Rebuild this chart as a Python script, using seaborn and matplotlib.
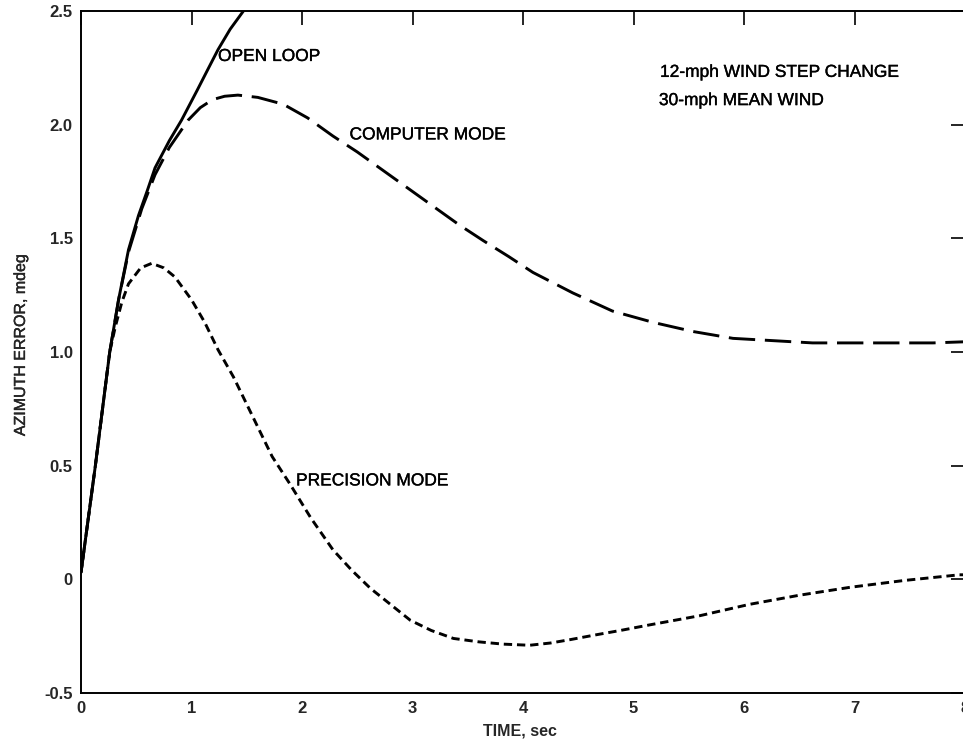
import matplotlib
matplotlib.use("Agg")
import matplotlib.pyplot as plt
import matplotlib.patheffects as pe
import seaborn as sns
import pandas as pd

# ---- data ----
open_loop_t = [0, 0.13, 0.20, 0.26, 0.34, 0.43, 0.52, 0.60, 0.67, 0.80, 0.91, 1.05, 1.15, 1.24, 1.35, 1.47, 1.60]
open_loop_v = [0.03, 0.50, 0.77, 1.00, 1.23, 1.45, 1.60, 1.71, 1.81, 1.93, 2.02, 2.15, 2.245, 2.33, 2.42, 2.50, 2.59]

computer_t = [0, 0.13, 0.20, 0.26, 0.34, 0.43, 0.55, 0.67, 0.80, 0.97, 1.08, 1.19, 1.30, 1.42, 1.60, 1.83, 2.05,
              2.28, 2.50, 2.73, 2.96, 3.19, 3.42, 3.64, 3.87, 4.09, 4.45, 4.81, 5.18, 5.54, 5.90,
              6.26, 6.62, 7.11, 7.71, 8.0]
computer_v = [0.03, 0.50, 0.77, 1.00, 1.23, 1.44, 1.63, 1.78, 1.90, 2.02, 2.075, 2.11, 2.125, 2.13, 2.12, 2.09, 2.03,
              1.95, 1.88, 1.80, 1.72, 1.64, 1.56, 1.49, 1.42, 1.35, 1.26, 1.18, 1.13, 1.09, 1.06,
              1.05, 1.04, 1.04, 1.04, 1.045]

precision_t = [0, 0.13, 0.20, 0.26, 0.31, 0.37, 0.43, 0.54, 0.64, 0.75, 0.85, 1.00, 1.12, 1.24, 1.38, 1.51,
               1.62, 1.73, 1.89, 2.08, 2.28, 2.45, 2.62, 2.80, 2.98, 3.17, 3.37, 3.60, 3.82, 4.06,
               4.25, 4.43, 4.65, 4.88, 5.15, 5.60, 6.05, 6.50, 6.96, 7.45, 7.95, 8.0]
precision_v = [0.03, 0.50, 0.77, 1.00, 1.11, 1.22, 1.30, 1.37, 1.39, 1.37, 1.33, 1.23, 1.13, 1.01, 0.89, 0.76,
               0.65, 0.54, 0.42, 0.27, 0.13, 0.04, -0.04, -0.11, -0.18, -0.225, -0.26, -0.275, -0.285, -0.29,
               -0.28, -0.265, -0.245, -0.225, -0.20, -0.16, -0.11, -0.07, -0.035, -0.005, 0.02, 0.02]

series_names = ["OPEN LOOP", "COMPUTER MODE", "PRECISION MODE"]

x_ticks = [0, 1, 2, 3, 4, 5, 6, 7, 8]
x_tick_labels = ["0", "1", "2", "3", "4", "5", "6", "7", "8"]
y_ticks = [-0.5, 0, 0.5, 1.0, 1.5, 2.0, 2.5]
y_tick_labels = ["-0.5", "0", "0.5", "1.0", "1.5", "2.0", "2.5"]

note_lines = ["12-mph WIND STEP CHANGE", "30-mph MEAN WIND"]

# ---- build long table ----
frames = []
for name, t, v in zip(series_names,
                      [open_loop_t, computer_t, precision_t],
                      [open_loop_v, computer_v, precision_v]):
    frames.append(pd.DataFrame({"time": t, "err": v, "series": name}))
df = pd.concat(frames, ignore_index=True)

sns.set_theme(style="white")
plt.rcParams["font.family"] = ["Liberation Sans", "DejaVu Sans"]
plt.rcParams["lines.scale_dashes"] = False

fig = plt.figure(figsize=(9.63, 7.47), dpi=100)
ax = fig.add_axes([81 / 963, 54 / 747, 884 / 963, 682 / 747])

sns.lineplot(
    data=df, x="time", y="err", hue="series", style="series",
    palette={n: "black" for n in series_names},
    dashes={"OPEN LOOP": "", "COMPUTER MODE": (19, 7), "PRECISION MODE": (6, 3.5)},
    sort=False, estimator=None, legend=False, linewidth=2.1, ax=ax,
)

ax.set_xlim(0, 8)
ax.set_ylim(-0.5, 2.5)
ax.set_xticks(x_ticks)
ax.set_xticklabels(x_tick_labels, fontsize=12, fontweight="bold")
ax.set_yticks(y_ticks)
ax.set_yticklabels(y_tick_labels, fontsize=12, fontweight="bold")
ax.tick_params(axis="both", direction="in", length=10, width=1.2, color="black",
               top=True, right=True, labeltop=False, labelright=False, pad=6)

for side, sp in ax.spines.items():
    sp.set_color("black")
    sp.set_linewidth(1.4)
    sp.set_visible(True)

thick = [pe.withStroke(linewidth=0.25, foreground="black")]

ax.set_xlabel("TIME, sec", fontsize=11.5, fontweight="bold")
ax.set_ylabel("AZIMUTH ERROR, mdeg", fontsize=11.5, path_effects=thick)
ax.xaxis.set_label_coords(0.497, -0.045)
ax.yaxis.set_label_coords(-0.060, 0.51)

txt_kw = dict(fontsize=12.5, va="center", ha="left", color="black", path_effects=thick)
ax.text(1.24, 2.30, series_names[0], **txt_kw)
ax.text(2.43, 1.955, series_names[1], **txt_kw)
ax.text(1.946, 0.433, series_names[2], **txt_kw)
ax.text(5.24, 2.23, note_lines[0], **txt_kw)
ax.text(5.23, 2.106, note_lines[1], **txt_kw)

fig.savefig("out.png", dpi=100)
